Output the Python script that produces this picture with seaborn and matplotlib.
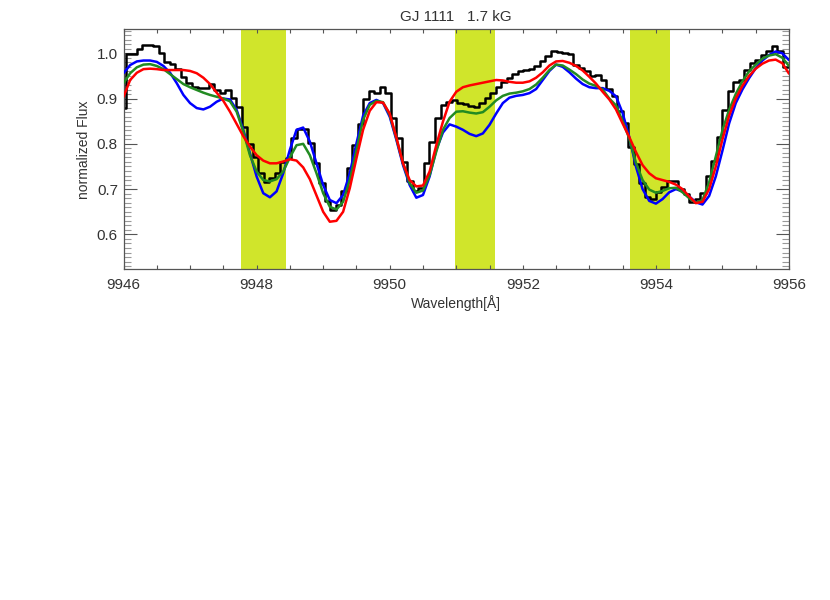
import numpy as np
import seaborn as sns
import matplotlib.pyplot as plt
from matplotlib.ticker import MultipleLocator

# ---------------------------------------------------------
# data
# ---------------------------------------------------------

# observed spectrum (histogram steps), first edge and bin width in Angstrom
obs_start = 9945.95
obs_step = 0.083
obs_flux = [
    0.880, 0.998, 0.998, 1.009, 1.018, 1.018, 1.015, 1.000, 0.980, 0.976,
    0.965, 0.948, 0.934, 0.926, 0.923, 0.923, 0.932, 0.919, 0.912, 0.919,
    0.901, 0.881, 0.838, 0.800, 0.771, 0.736, 0.716, 0.724, 0.735, 0.759,
    0.768, 0.812, 0.832, 0.832, 0.801, 0.757, 0.713, 0.673, 0.654, 0.665,
    0.695, 0.746, 0.798, 0.843, 0.900, 0.917, 0.912, 0.926, 0.912, 0.856,
    0.812, 0.761, 0.717, 0.695, 0.702, 0.757, 0.805, 0.856, 0.886, 0.893,
    0.896, 0.891, 0.888, 0.884, 0.881, 0.890, 0.902, 0.913, 0.925, 0.937,
    0.946, 0.954, 0.961, 0.963, 0.965, 0.973, 0.983, 0.993, 1.006, 1.002,
    1.001, 0.999, 0.975, 0.967, 0.960, 0.950, 0.952, 0.940, 0.921, 0.905,
    0.872, 0.845, 0.793, 0.755, 0.714, 0.682, 0.679, 0.693, 0.704, 0.717,
    0.717, 0.700, 0.690, 0.672, 0.678, 0.692, 0.728, 0.763, 0.815, 0.875,
    0.917, 0.937, 0.941, 0.963, 0.978, 0.985, 0.996, 1.006, 1.016, 1.004,
    0.970, 0.970,
]

# model spectra sampled every 0.1 A from 9946.0 to 9956.0
model_wl = np.linspace(9946.0, 9956.0, 101)

flux_blue = [
    0.956, 0.974, 0.982, 0.984, 0.984, 0.981, 0.972, 0.957, 0.934, 0.908,
    0.890, 0.879, 0.876, 0.882, 0.893, 0.900, 0.898, 0.875, 0.831, 0.779,
    0.728, 0.691, 0.682, 0.695, 0.735, 0.787, 0.831, 0.836, 0.805, 0.757,
    0.709, 0.676, 0.669, 0.687, 0.735, 0.801, 0.862, 0.890, 0.897, 0.890,
    0.860, 0.809, 0.753, 0.709, 0.681, 0.687, 0.728, 0.787, 0.825, 0.843,
    0.838, 0.831, 0.822, 0.817, 0.823, 0.842, 0.867, 0.890, 0.902, 0.906,
    0.908, 0.912, 0.921, 0.941, 0.961, 0.975, 0.970, 0.958, 0.944, 0.932,
    0.925, 0.923, 0.923, 0.917, 0.905, 0.868, 0.815, 0.750, 0.700, 0.674,
    0.668, 0.678, 0.693, 0.700, 0.695, 0.684, 0.671, 0.666, 0.685, 0.728,
    0.785, 0.845, 0.890, 0.920, 0.945, 0.967, 0.984, 0.996, 1.004, 1.000,
    0.985,
]

flux_green = [
    0.934, 0.956, 0.969, 0.975, 0.976, 0.972, 0.965, 0.954, 0.943, 0.932,
    0.925, 0.919, 0.913, 0.908, 0.904, 0.900, 0.894, 0.871, 0.827, 0.775,
    0.739, 0.720, 0.717, 0.722, 0.739, 0.770, 0.797, 0.800, 0.775, 0.735,
    0.691, 0.661, 0.655, 0.672, 0.720, 0.786, 0.853, 0.886, 0.895, 0.892,
    0.864, 0.812, 0.757, 0.713, 0.692, 0.697, 0.731, 0.783, 0.831, 0.857,
    0.871, 0.872, 0.869, 0.867, 0.870, 0.882, 0.896, 0.906, 0.911, 0.913,
    0.916, 0.921, 0.931, 0.946, 0.963, 0.975, 0.973, 0.964, 0.954, 0.942,
    0.933, 0.928, 0.920, 0.900, 0.885, 0.850, 0.812, 0.758, 0.720, 0.699,
    0.692, 0.696, 0.702, 0.703, 0.693, 0.680, 0.670, 0.676, 0.715, 0.772,
    0.830, 0.875, 0.910, 0.938, 0.960, 0.975, 0.988, 0.995, 0.998, 0.990,
    0.972,
]

flux_red = [
    0.904, 0.941, 0.957, 0.965, 0.966, 0.965, 0.963, 0.963, 0.963, 0.963,
    0.961, 0.956, 0.946, 0.932, 0.913, 0.895, 0.871, 0.844, 0.817, 0.794,
    0.775, 0.763, 0.757, 0.757, 0.761, 0.766, 0.763, 0.748, 0.722, 0.686,
    0.650, 0.628, 0.630, 0.650, 0.702, 0.768, 0.831, 0.873, 0.892, 0.891,
    0.867, 0.814, 0.757, 0.720, 0.706, 0.708, 0.739, 0.797, 0.849, 0.893,
    0.915, 0.925, 0.929, 0.932, 0.935, 0.938, 0.941, 0.940, 0.937, 0.935,
    0.935, 0.938, 0.946, 0.958, 0.973, 0.982, 0.983, 0.979, 0.972, 0.962,
    0.948, 0.933, 0.915, 0.898, 0.876, 0.845, 0.815, 0.782, 0.753, 0.735,
    0.724, 0.720, 0.716, 0.710, 0.700, 0.684, 0.669, 0.672, 0.700, 0.750,
    0.810, 0.862, 0.900, 0.928, 0.950, 0.966, 0.977, 0.984, 0.986, 0.978,
    0.955,
]

# highlighted wavelength regions
band_lo = [9947.76, 9950.98, 9953.61]
band_hi = [9948.44, 9951.58, 9954.21]

title = "GJ 1111   1.7 kG"

# ---------------------------------------------------------
# plot
# ---------------------------------------------------------

sns.set_style("white")
plt.rcParams['font.family'] = ['Liberation Sans', 'DejaVu Sans']
txt_col = '#333333'
ax_col = '#555555'

obs_wl = obs_start + obs_step * np.arange(len(obs_flux))

fig = plt.figure(figsize=(8.3, 6), dpi=100)
ax = fig.add_axes([0.1488, 0.5512, 0.8018, 0.4])

for lo, hi in zip(band_lo, band_hi):
    ax.axvspan(lo, hi, color='#d0e52b', lw=0, zorder=0)

sns.lineplot(x=obs_wl, y=obs_flux, ax=ax, color='black', lw=1.8,
             drawstyle='steps-post', estimator=None, zorder=2)
sns.lineplot(x=model_wl, y=flux_blue, ax=ax, color='#0000ff', lw=1.8,
             estimator=None, zorder=3)
sns.lineplot(x=model_wl, y=flux_green, ax=ax, color='#228b22', lw=1.8,
             estimator=None, zorder=4)
sns.lineplot(x=model_wl, y=flux_red, ax=ax, color='#ff0000', lw=1.8,
             estimator=None, zorder=5)

ax.set_xlim(9946, 9956)
ax.set_ylim(0.523, 1.053)

ax.xaxis.set_major_locator(MultipleLocator(2))
ax.xaxis.set_minor_locator(MultipleLocator(0.5))
ax.yaxis.set_major_locator(MultipleLocator(0.1))
ax.yaxis.set_minor_locator(MultipleLocator(0.01))
ax.xaxis.set_major_formatter(lambda v, p: f"{v:.0f}")
ax.yaxis.set_major_formatter(lambda v, p: f"{v:.1f}")

ax.tick_params(axis='x', which='both', direction='in', top=True, bottom=True,
               length=3, width=0.8, color=ax_col, labelsize=11,
               labelcolor=txt_col, pad=6.5)
ax.tick_params(axis='y', which='major', direction='in', left=True, right=True,
               length=9.5, width=0.8, color=ax_col, labelsize=11,
               labelcolor=txt_col, pad=4)
ax.tick_params(axis='y', which='minor', direction='in', left=True, right=True,
               length=5, width=0.8, color='#999999')

for s in ax.spines.values():
    s.set_color(ax_col)
    s.set_linewidth(0.9)

ax.set_xlabel("Wavelength[Å]", fontsize=10, color=txt_col, labelpad=2)
ax.set_ylabel("normalized Flux", fontsize=10, color=txt_col, labelpad=4)
ax.set_title(title, fontsize=11, color=txt_col, pad=6)

fig.savefig("out.png", dpi=100)
